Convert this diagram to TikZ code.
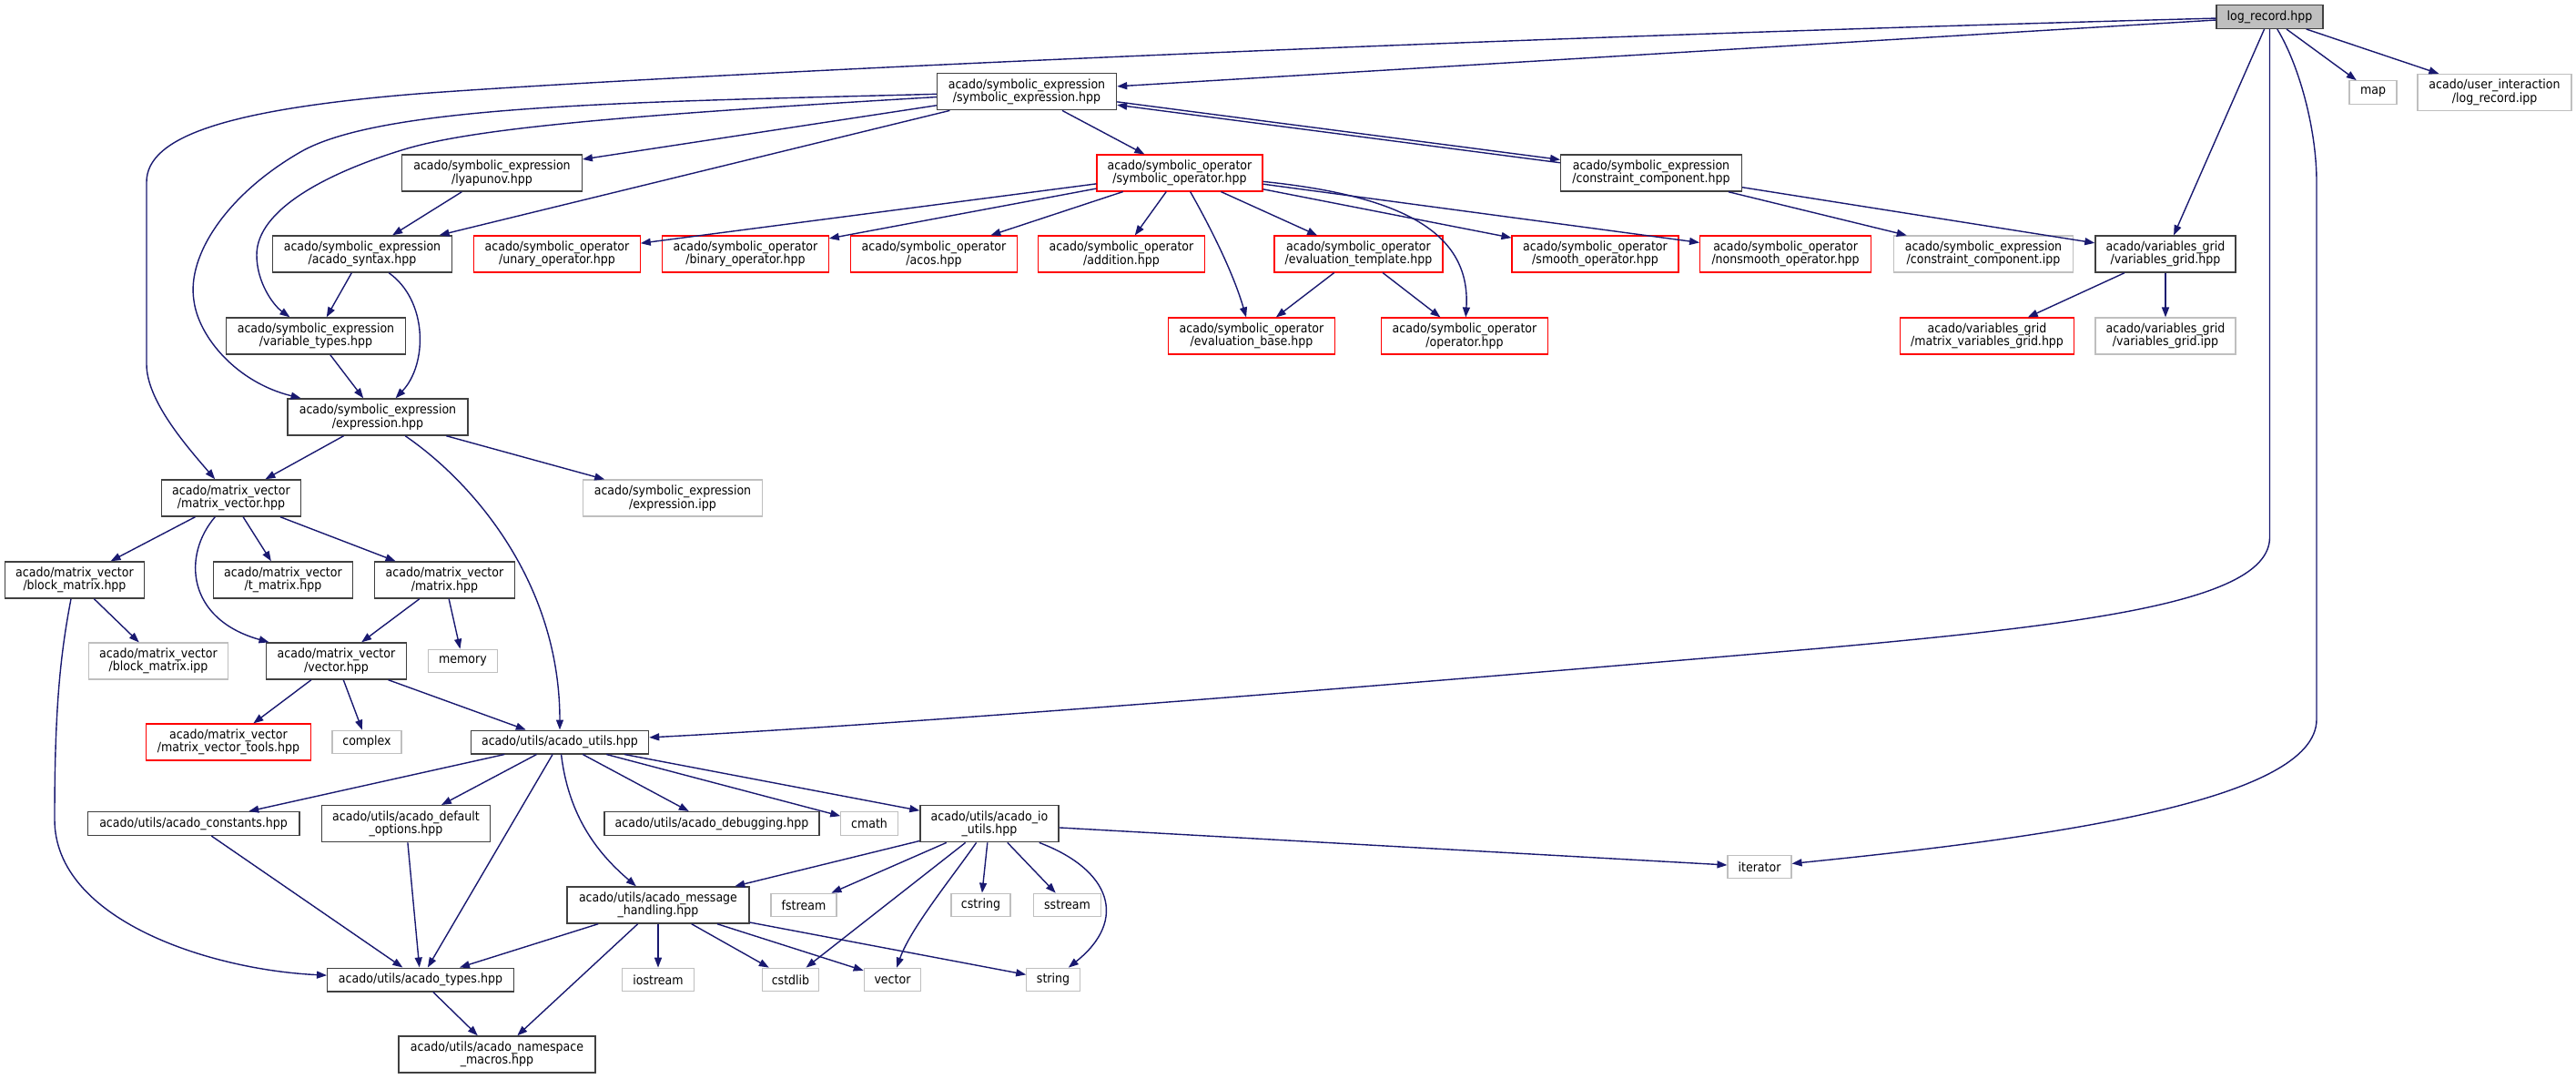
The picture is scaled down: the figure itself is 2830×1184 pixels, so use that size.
\documentclass[tikz,border=0pt]{standalone}
\usepackage{fontspec}
\setmainfont{DejaVu Sans Condensed}
\usetikzlibrary{arrows.meta}
\definecolor{edgeblue}{HTML}{191970}
\definecolor{extgray}{HTML}{BFBFBF}
\definecolor{docgray}{HTML}{404040}

\begin{document}
\begin{tikzpicture}[
  x=1pt, y=-1pt,
  font=\fontsize{14}{14.5}\selectfont,
  line/.style={-{Triangle[length=11pt,width=8pt]}, draw=edgeblue, line width=1.4pt},
  basebox/.style={draw, fill=white, align=center, inner sep=0pt, minimum height=40pt},
  docbox/.style={basebox, draw=docgray, line width=1.4pt},
  redbox/.style={basebox, draw=red, line width=1.1pt},
  extbox/.style={basebox, draw=extgray, line width=1.1pt},
  rootbox/.style={docbox, fill=extgray},
  one/.style={minimum height=25.6pt}
]
\useasboundingbox (0,0) rectangle (2830,1184);

% Root header
\node[rootbox, one, minimum width=117pt] (root) at (2493.5,18.5) {log\_record.hpp};

% Symbolic expression rows
\node[docbox, minimum width=197pt] (symexpr) at (1128,100.7) {acado/symbolic\_expression\\/symbolic\_expression.hpp};
\node[extbox, one, minimum width=52pt] (mapn) at (2607,101.5) {map};
\node[extbox, minimum width=169pt] (uilog) at (2740.5,101.5) {acado/user\_interaction\\/log\_record.ipp};

\node[docbox, minimum width=197.5pt] (lyap) at (540.5,190) {acado/symbolic\_expression\\/lyapunov.hpp};
\node[redbox, minimum width=182pt] (symop) at (1296,190) {acado/symbolic\_operator\\/symbolic\_operator.hpp};
\node[docbox, minimum width=198.5pt] (ccomp) at (1814,190) {acado/symbolic\_expression\\/constraint\_component.hpp};

\node[docbox, minimum width=197.5pt] (syntax) at (398,279) {acado/symbolic\_expression\\/acado\_syntax.hpp};
\node[redbox, minimum width=182.5pt] (unary) at (612,279) {acado/symbolic\_operator\\/unary\_operator.hpp};
\node[redbox, minimum width=182.5pt] (binary) at (819,279) {acado/symbolic\_operator\\/binary\_operator.hpp};
\node[redbox, minimum width=182.5pt] (acos) at (1026,279) {acado/symbolic\_operator\\/acos.hpp};
\node[redbox, minimum width=182.5pt] (addition) at (1232,279) {acado/symbolic\_operator\\/addition.hpp};
\node[redbox, minimum width=185pt] (evaltmpl) at (1492.5,279) {acado/symbolic\_operator\\/evaluation\_template.hpp};
\node[redbox, minimum width=183pt] (smooth) at (1752.5,279) {acado/symbolic\_operator\\/smooth\_operator.hpp};
\node[redbox, minimum width=188pt] (nonsmooth) at (1961.6,279) {acado/symbolic\_operator\\/nonsmooth\_operator.hpp};
\node[extbox, minimum width=197.5pt] (ccipp) at (2179,279) {acado/symbolic\_expression\\/constraint\_component.ipp};
\node[docbox, minimum width=154pt] (vgrid) at (2379,279) {acado/variables\_grid\\/variables\_grid.hpp};

\node[docbox, minimum width=197pt] (vartypes) at (347,369) {acado/symbolic\_expression\\/variable\_types.hpp};
\node[redbox, minimum width=182.5pt] (evalbase) at (1375,369) {acado/symbolic\_operator\\/evaluation\_base.hpp};
\node[redbox, minimum width=182.5pt] (oper) at (1609,369) {acado/symbolic\_operator\\/operator.hpp};
\node[redbox, minimum width=191.5pt] (mvgrid) at (2183,369) {acado/variables\_grid\\/matrix\_variables\_grid.hpp};
\node[extbox, minimum width=154pt] (vgridipp) at (2379,369) {acado/variables\_grid\\/variables\_grid.ipp};

\node[docbox, minimum width=198pt] (expr) at (415,458) {acado/symbolic\_expression\\/expression.hpp};

% Matrix vector rows
\node[docbox, minimum width=153.5pt] (mv) at (254,547) {acado/matrix\_vector\\/matrix\_vector.hpp};
\node[extbox, minimum width=197.5pt] (expripp) at (739,547) {acado/symbolic\_expression\\/expression.ipp};

\node[docbox, minimum width=153.5pt] (blockm) at (82,637) {acado/matrix\_vector\\/block\_matrix.hpp};
\node[docbox, minimum width=153.5pt] (tmat) at (311,637) {acado/matrix\_vector\\/t\_matrix.hpp};
\node[docbox, minimum width=153.5pt] (matrix) at (488.5,637) {acado/matrix\_vector\\/matrix.hpp};

\node[extbox, minimum width=153.5pt] (blockipp) at (174,726) {acado/matrix\_vector\\/block\_matrix.ipp};
\node[docbox, minimum width=153.5pt] (vector) at (369.5,726) {acado/matrix\_vector\\/vector.hpp};
\node[extbox, one, minimum width=76pt] (memory) at (508.5,726) {memory};

% Utils rows
\node[redbox, minimum width=181pt] (mvtools) at (251,815) {acado/matrix\_vector\\/matrix\_vector\_tools.hpp};
\node[extbox, one, minimum width=76pt] (complex) at (403,815) {complex};
\node[docbox, one, minimum width=195pt] (autils) at (615,815) {acado/utils/acado\_utils.hpp};

\node[docbox, one, minimum width=232.5pt] (consts) at (212.6,904.5) {acado/utils/acado\_constants.hpp};
\node[docbox, minimum width=185.5pt] (defopts) at (446,904.7) {acado/utils/acado\_default\\\_options.hpp};
\node[docbox, one, minimum width=236pt] (debug) at (782,904.5) {acado/utils/acado\_debugging.hpp};
\node[extbox, one, minimum width=62.5pt] (cmath) at (955,904.5) {cmath};
\node[docbox, minimum width=152pt] (ioutils) at (1087,904.7) {acado/utils/acado\_io\\\_utils.hpp};

\node[docbox, minimum width=200pt] (msgh) at (723,994) {acado/utils/acado\_message\\\_handling.hpp};
\node[extbox, one, minimum width=72pt] (fstream) at (883,994) {fstream};
\node[extbox, one, minimum width=65pt] (cstring) at (1077.5,994) {cstring};
\node[extbox, one, minimum width=74.5pt] (sstream) at (1172.5,994) {sstream};
\node[extbox, one, minimum width=70pt] (iterator) at (1933,952) {iterator};

\node[docbox, one, minimum width=204.5pt] (atypes) at (462,1076) {acado/utils/acado\_types.hpp};
\node[extbox, one, minimum width=79pt] (iostream) at (723,1076) {iostream};
\node[extbox, one, minimum width=62.5pt] (cstdlib) at (868.5,1076) {cstdlib};
\node[extbox, one, minimum width=62.5pt] (vectorstd) at (980.5,1076) {vector};
\node[extbox, one, minimum width=58.5pt] (stringn) at (1157,1076) {string};

\node[docbox, minimum width=216pt] (macros) at (546,1158) {acado/utils/acado\_namespace\\\_macros.hpp};

% Edges from the root header
\draw[line] (root) .. controls (1500,45) and (700,85) .. (459,103) .. controls (250,120) and (161,150) .. (161,200) -- (161,400) .. controls (161,440) and (205,490) .. (mv);
\draw[line] (root) -- (symexpr);
\draw[line] (root) -- (vgrid);
\draw[line] (root) -- (2493.5,590) .. controls (2493.5,660) and (2300,685) .. (2000,712) .. controls (1500,755) and (1000,795) .. (autils);
\draw[line] (root) .. controls (2525,70) and (2545,140) .. (2545,200) -- (2545,790) .. controls (2545,880) and (2250,920) .. (iterator);
\draw[line] (root) -- (mapn);
\draw[line] (root) -- (uilog);

% Symbolic expression
\draw[line] (symexpr) -- (lyap);
\draw[line] (symexpr) -- (syntax);
\draw[line] (symexpr) .. controls (700,126) and (520,140) .. (441,165) .. controls (360,190) and (282,230) .. (282,280) .. controls (282,310) and (300,335) .. (vartypes);
\draw[line] (symexpr) .. controls (700,112) and (420,115) .. (330,167) .. controls (250,213) and (205,280) .. (213,330) .. controls (218,370) and (260,420) .. (expr);
\draw[line] (symexpr) -- (symop);
\draw[line, transform canvas={yshift=1.7pt}] (symexpr) -- (ccomp);
\draw[line, transform canvas={yshift=-1.7pt}] (ccomp) -- (symexpr);

\draw[line] (lyap) -- (syntax);
\draw[line] (syntax) -- (vartypes);
\draw[line] (syntax) .. controls (470,330) and (470,400) .. (expr);
\draw[line] (vartypes) -- (expr);

% Symbolic operator
\draw[line] (symop) -- (unary);
\draw[line] (symop) -- (binary);
\draw[line] (symop) -- (acos);
\draw[line] (symop) -- (addition);
\draw[line] (symop) .. controls (1330,250) and (1355,300) .. (evalbase);
\draw[line] (symop) -- (evaltmpl);
\draw[line] (symop) -- (smooth);
\draw[line] (symop) -- (nonsmooth);
\draw[line] (symop) .. controls (1540,215) and (1616,255) .. (oper);
\draw[line] (evaltmpl) -- (evalbase);
\draw[line] (evaltmpl) -- (oper);

% Constraint component and variables grid
\draw[line] (ccomp) -- (ccipp);
\draw[line] (ccomp) -- (vgrid);
\draw[line] (vgrid) -- (mvgrid);
\draw[line] (vgrid) -- (vgridipp);

% Expression
\draw[line] (expr) -- (mv);
\draw[line] (expr) -- (expripp);
\draw[line] (expr) .. controls (520,530) and (615,640) .. (autils);

% Matrix vector
\draw[line] (mv) -- (blockm);
\draw[line] (mv) -- (tmat);
\draw[line] (mv) -- (matrix);
\draw[line] (mv) .. controls (200,610) and (205,680) .. (vector);
\draw[line] (blockm) -- (blockipp);
\draw[line] (blockm) .. controls (66,720) and (60,780) .. (60,900) .. controls (60,1010) and (230,1065) .. (atypes);
\draw[line] (matrix) -- (vector);
\draw[line] (matrix) -- (memory);
\draw[line] (vector) -- (mvtools);
\draw[line] (vector) -- (complex);
\draw[line] (vector) -- (autils);

% Utils
\draw[line] (autils) -- (consts);
\draw[line] (autils) -- (defopts);
\draw[line] (autils) -- (atypes);
\draw[line] (autils) .. controls (625,900) and (660,940) .. (msgh);
\draw[line] (autils) -- (debug);
\draw[line] (autils) -- (cmath);
\draw[line] (autils) -- (ioutils);

\draw[line] (ioutils) -- (msgh);
\draw[line] (ioutils) -- (fstream);
\draw[line] (ioutils) -- (cstdlib);
\draw[line] (ioutils) .. controls (1045,965) and (1000,1020) .. (vectorstd);
\draw[line] (ioutils) -- (cstring);
\draw[line] (ioutils) -- (sstream);
\draw[line] (ioutils) .. controls (1220,955) and (1240,1010) .. (stringn);
\draw[line] (ioutils) -- (iterator);

\draw[line] (msgh) -- (atypes);
\draw[line] (msgh) -- (macros);
\draw[line] (msgh) -- (iostream);
\draw[line] (msgh) -- (cstdlib);
\draw[line] (msgh) -- (vectorstd);
\draw[line] (msgh) -- (stringn);

\draw[line] (consts) -- (atypes);
\draw[line] (defopts) -- (atypes);
\draw[line] (atypes) -- (macros);

\end{tikzpicture}
\end{document}
